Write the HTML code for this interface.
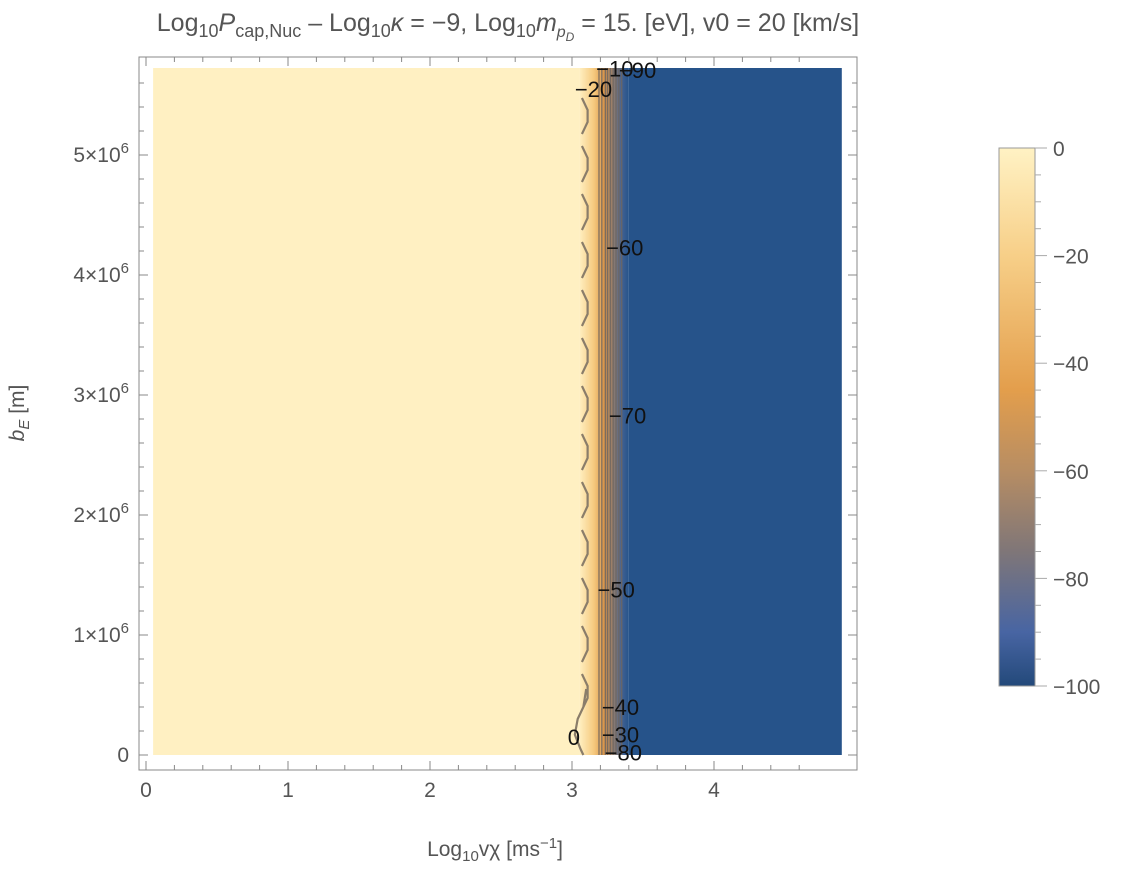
<!DOCTYPE html>
<html><head><meta charset="utf-8"><style>
body{margin:0;background:#fff;}
svg text{font-family:"Liberation Sans",sans-serif;}
</style></head><body>
<svg width="1131" height="870" viewBox="0 0 1131 870">
<defs>
<linearGradient id="band" x1="0" x2="1" y1="0" y2="0">
<stop offset="0" stop-color="#fff0c2"/><stop offset="0.3" stop-color="#f6c97e"/>
<stop offset="0.5" stop-color="#d9954a"/><stop offset="0.7" stop-color="#8a7a72"/>
<stop offset="0.88" stop-color="#3d5f92"/><stop offset="1" stop-color="#26538a"/></linearGradient>
<linearGradient id="cbar" x1="0" x2="0" y1="0" y2="1">
<stop offset="0" stop-color="#fff2c4"/><stop offset="0.2" stop-color="#f7cf88"/>
<stop offset="0.45" stop-color="#e39e4c"/><stop offset="0.6" stop-color="#b78d63"/>
<stop offset="0.75" stop-color="#7f7678"/><stop offset="0.9" stop-color="#4865a3"/>
<stop offset="1" stop-color="#23497a"/></linearGradient>
</defs>
<text x="508" y="31" font-size="25" fill="#555" text-anchor="middle">Log<tspan font-size="18" dy="6">10</tspan><tspan dy="-6" font-style="italic">P</tspan><tspan font-size="18" dy="6">cap,Nuc</tspan><tspan dy="-6"> – Log</tspan><tspan font-size="18" dy="6">10</tspan><tspan dy="-6" font-style="italic">κ</tspan><tspan> = −9, Log</tspan><tspan font-size="18" dy="6">10</tspan><tspan dy="-6" font-style="italic">m</tspan><tspan font-size="16" dy="6" font-style="italic">p<tspan font-size="12" dy="4">D</tspan></tspan><tspan dy="-10"> = 15. [eV], v0 = 20 [km/s]</tspan></text>
<g id="plot"></g>
<g id="cb"></g>
<text x="495" y="856" font-size="21" fill="#555" text-anchor="middle">Log<tspan font-size="15" dy="5">10</tspan><tspan dy="-5">vχ [ms</tspan><tspan font-size="15" dy="-8">−1</tspan><tspan dy="8">]</tspan></text>
<text transform="translate(24,413) rotate(-90)" font-size="21" fill="#555" text-anchor="middle"><tspan font-style="italic">b</tspan><tspan font-size="15" dy="5" font-style="italic">E</tspan><tspan dy="-5"> [m]</tspan></text>
</svg>
<script>
const xTicks=[0,1,2,3,4];
const yTicks=[0,1,2,3,4,5];
const dataX=[0.05,4.9];
const dataY=[0,5.725];
const yellowEnd=3.05, blueStart=3.4;
const contourLevels=[-10,-20,-30,-40,-50,-60,-70,-80,-90];
const contourX=[3.19,3.21,3.235,3.25,3.27,3.29,3.31,3.33,3.35];
const labelPos=[[3.17,5.72],[3.02,5.55],[3.21,0.17],[3.21,0.4],[3.18,1.38],[3.24,4.23],[3.26,2.83],[3.23,0.02],[3.33,5.71]];
const cbTicks=[0,-20,-40,-60,-80,-100];
const ns="http://www.w3.org/2000/svg";
const X=v=>146+142*v, Y=v=>755-120*v;
function mk(tag,a,p){const e=document.createElementNS(ns,tag);for(const k in a)e.setAttribute(k,a[k]);p.appendChild(e);return e;}
const g=document.getElementById('plot');
let r=mk('rect',{x:X(dataX[0]),y:Y(dataY[1]),width:X(yellowEnd)-X(dataX[0]),height:Y(0)-Y(dataY[1]),fill:'#fff0c2'},g);

r=mk('rect',{x:X(yellowEnd),y:Y(dataY[1]),width:X(blueStart)-X(yellowEnd),height:Y(0)-Y(dataY[1]),fill:'url(#band)'},g);

r=mk('rect',{x:X(blueStart),y:Y(dataY[1]),width:X(dataX[1])-X(blueStart),height:Y(0)-Y(dataY[1]),fill:'#26538a'},g);

contourX.forEach((cx,i)=>{const l=mk('line',{x1:X(cx),x2:X(cx),y1:Y(dataY[1]),y2:Y(0),stroke:'#6e6660','stroke-width':1.3,'stroke-opacity':0.85},g);
});
let d='M'+X(3.08)+','+Y(dataY[1]);
for(let yy=dataY[1]-0.35;yy>0.4;yy-=0.4){d+=' M'+X(3.07)+','+Y(yy+0.1)+' L'+X(3.11)+','+Y(yy)+' L'+X(3.11)+','+Y(yy-0.1)+' L'+X(3.07)+','+Y(yy-0.2);}
d+=' M'+X(3.1)+','+Y(0.55)+' L'+X(3.08)+','+Y(0.4)+' L'+X(3.04)+','+Y(0.3)+' L'+X(3.02)+','+Y(0.17)+' L'+X(3.06)+','+Y(0.05)+' L'+X(3.08)+','+Y(0);
const zc=mk('path',{d:d,fill:'none',stroke:'#8a7d6a','stroke-width':2.2},g);

contourLevels.forEach((lv,i)=>{const t=mk('text',{x:X(labelPos[i][0]),y:Y(labelPos[i][1])+8,'font-size':22,fill:'#111'},g);t.textContent=String(lv).replace('-','−');
});
const z=mk('text',{x:X(2.97),y:Y(0.15)+8,'font-size':22,fill:'#111'},g);z.textContent='0';

const fr=mk('rect',{x:139,y:57,width:718,height:713,fill:'none',stroke:'#888','stroke-width':1},g);

for(let v=0;v<=4.8;v+=0.2){const big=Math.abs(v-Math.round(v))<1e-6,L=big?9:5;
mk('line',{x1:X(v),x2:X(v),y1:770,y2:770-L,stroke:'#888'},g);mk('line',{x1:X(v),x2:X(v),y1:57,y2:57+L,stroke:'#888'},g);}
xTicks.forEach(v=>{const t=mk('text',{x:X(v),y:797,'font-size':21,fill:'#555','text-anchor':'middle'},g);t.textContent=v;
});
for(let v=0;v<=5.7;v+=0.2){const big=Math.abs(v-Math.round(v))<1e-6,L=big?9:5;
mk('line',{x1:139,x2:139+L,y1:Y(v),y2:Y(v),stroke:'#888'},g);mk('line',{x1:857,x2:857-L,y1:Y(v),y2:Y(v),stroke:'#888'},g);}
yTicks.forEach(v=>{const t=mk('text',{x:129,y:Y(v)+7,'font-size':21,fill:'#555','text-anchor':'end'},g);
if(v===0)t.textContent='0';else{t.innerHTML=v+'×10<tspan font-size="15" dy="-9">6</tspan>';}
});
const cb=document.getElementById('cb');
const CY=v=>148+(0-v)/100*538;
const cr=mk('rect',{x:999,y:148,width:36,height:538,fill:'url(#cbar)',stroke:'#999'},cb);

for(let v=0;v>=-100;v-=5){mk('line',{x1:1035,x2:v%20===0?1047:1041,y1:CY(v),y2:CY(v),stroke:'#aaa'},cb);}
cbTicks.forEach(v=>{const t=mk('text',{x:1053,y:CY(v)+8,'font-size':21,fill:'#555'},cb);t.textContent=String(v).replace('-','−');
});
</script>
</body></html>
